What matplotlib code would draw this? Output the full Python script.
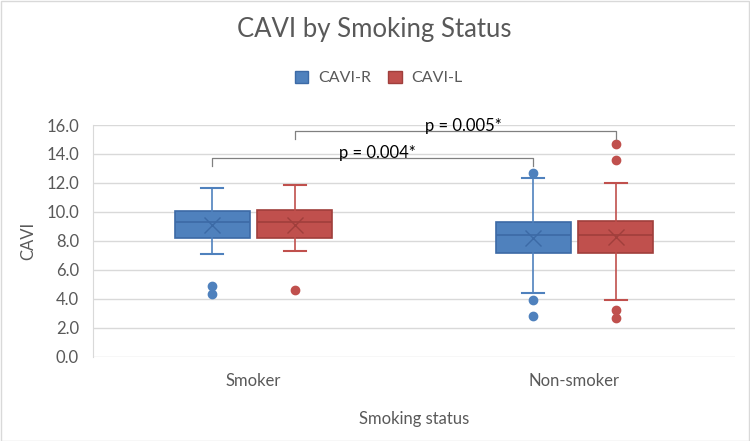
import matplotlib
matplotlib.use("Agg")
import matplotlib.pyplot as plt
from matplotlib.patches import Rectangle

categories = ["Smoker", "Non-smoker"]
series = ["CAVI-R", "CAVI-L"]

# five-number summaries per category: [Smoker, Non-smoker]
r_whislo = [7.09, 4.39]
r_q1 = [8.21, 7.18]
r_med = [9.27, 8.38]
r_q3 = [10.08, 9.27]
r_whishi = [11.66, 12.36]
r_mean = [9.08, 8.18]
r_fliers = [[4.9, 4.3], [12.66, 3.89, 2.78]]

l_whislo = [7.27, 3.89]
l_q1 = [8.21, 7.18]
l_med = [9.27, 8.38]
l_q3 = [10.15, 9.39]
l_whishi = [11.85, 11.97]
l_mean = [9.12, 8.28]
l_fliers = [[4.6], [14.66, 13.56, 3.22, 2.69]]

yticks = [0, 2, 4, 6, 8, 10, 12, 14, 16]
p_labels = ["p = 0.004*", "p = 0.005*"]
bracket_top = [13.7, 15.6]
bracket_bottom = [13.2, 15.0]

blue, blue_dark = "#4F81BD", "#3C6AA6"
red, red_dark = "#C0504D", "#A03F3C"
gray_text = "#595959"

plt.rcParams["font.family"] = ["Lato", "DejaVu Sans"]

fig = plt.figure(figsize=(7.5, 4.41), dpi=100)
ax = fig.add_axes([93 / 750, 1 - 356.6 / 441, (735 - 93) / 750, (356.6 - 125) / 441])

offset = 0.128
width = 0.236

def stats(whislo, q1, med, q3, whishi, mean, fliers):
    return [dict(whislo=a, q1=b, med=c, q3=d, whishi=e, mean=f, fliers=g)
            for a, b, c, d, e, f, g in zip(whislo, q1, med, q3, whishi, mean, fliers)]

for st, col, dark, off in [
    (stats(r_whislo, r_q1, r_med, r_q3, r_whishi, r_mean, r_fliers), blue, blue_dark, -offset),
    (stats(l_whislo, l_q1, l_med, l_q3, l_whishi, l_mean, l_fliers), red, red_dark, offset),
]:
    pos = [i + off for i in range(len(categories))]
    ax.bxp(st, positions=pos, widths=width, patch_artist=True, showmeans=True,
           boxprops=dict(facecolor=col, edgecolor=dark, linewidth=1.2),
           medianprops=dict(color=dark, linewidth=1.2),
           whiskerprops=dict(color=col, linewidth=1.2),
           capprops=dict(color=col, linewidth=1.5),
           capwidths=0.068,
           meanprops=dict(marker="x", markeredgecolor=dark, markersize=12, markeredgewidth=1.0),
           flierprops=dict(marker="o", markerfacecolor=col, markeredgecolor=col, markersize=6),
           zorder=3)

# significance brackets
for k, (x0, x1) in enumerate([(0 - offset, 1 - offset), (0 + offset, 1 + offset)]):
    yt, yb = bracket_top[k], bracket_bottom[k]
    ax.plot([x0, x0, x1, x1], [yb, yt, yt, yb], color="#808080", lw=0.9, zorder=4)
tx = [0.385, 0.655]
for k in range(2):
    ax.text(tx[k], bracket_top[k] + 0.02, p_labels[k], ha="center", va="baseline",
            fontsize=12, color="black", zorder=5)

ax.set_xlim(-0.5, 1.5)
ax.set_ylim(0, 16)
ax.set_yticks(yticks)
ax.set_yticklabels([f"{v:.1f}" for v in yticks], fontsize=12, color=gray_text)
ax.set_xticks(range(len(categories)))
ax.set_xticklabels(categories, fontsize=12, color=gray_text)
ax.tick_params(axis="y", length=0, pad=10)
ax.tick_params(axis="x", length=0, pad=12)
ax.grid(axis="y", color="#D9D9D9", linewidth=1)
ax.set_axisbelow(True)
for s in ["top", "right", "bottom"]:
    ax.spines[s].set_visible(False)
ax.spines["left"].set_color("#D9D9D9")

ax.set_ylabel("CAVI", fontsize=12, color=gray_text, labelpad=7)
ax.set_xlabel("Smoking status", fontsize=12, color=gray_text, labelpad=16)

fig.text(0.499, 1 - 29 / 441, "CAVI by Smoking Status", ha="center", va="center",
         fontsize=18.5, color=gray_text)

handles = [Rectangle((0, 0), 1, 1, facecolor=blue, edgecolor=blue_dark),
           Rectangle((0, 0), 1, 1, facecolor=red, edgecolor=red_dark)]
leg = fig.legend(handles, series, loc="center", bbox_to_anchor=(0.505, 1 - 78 / 441),
                 ncol=2, frameon=False, fontsize=11.5, handlelength=0.85, handleheight=0.85,
                 columnspacing=1.1, handletextpad=0.6)
for t in leg.get_texts():
    t.set_color(gray_text)

fig.patches.append(Rectangle((0.5 / 750, 0.5 / 441), 748.5 / 750, 439.5 / 441,
                             transform=fig.transFigure, fill=False, edgecolor="#D9D9D9", lw=1))

fig.savefig("out.png", dpi=100)
